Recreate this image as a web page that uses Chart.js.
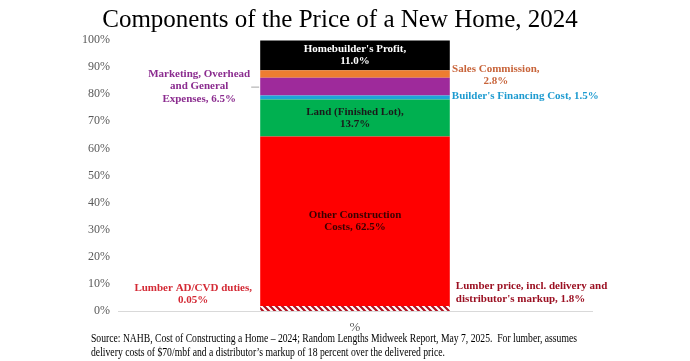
<!DOCTYPE html>
<html lang="en">
<head>
  <meta charset="UTF-8"/>
  <title>Components of the Price of a New Home, 2024</title>
  <script src="https://cdn.jsdelivr.net/npm/chart.js"></script>
  <style>
    html, body { margin: 0; padding: 0; background: #fff; }
    #wrap { width: 690px; height: 361px; }
  </style>
</head>
<body>
  <div id="wrap"><canvas id="chart"></canvas></div>

  <script>
    // data, bottom of the stack first
    const categories = ['%'];
    const segmentNames = [
      "Lumber price, incl. delivery and distributor's markup",
      'Lumber AD/CVD duties',
      'Other Construction Costs',
      'Land (Finished Lot)',
      "Builder's Financing Cost",
      'Marketing, Overhead and General Expenses',
      'Sales Commission',
      "Homebuilder's Profit"
    ];
    const segmentValues = [1.8, 0.05, 62.5, 13.7, 1.5, 6.5, 2.8, 11.0];
    const yTickLabels = ['0%','10%','20%','30%','40%','50%','60%','70%','80%','90%','100%'];
    const titleText = 'Components of the Price of a New Home, 2024';
    const sourceLines = [
      'Source: NAHB, Cost of Constructing a Home \u2013 2024; Random Lengths Midweek Report, May 7, 2025.  For lumber, assumes',
      'delivery costs of $70/mbf and a distributor\u2019s markup of 18 percent over the delivered price.'
    ];

    // hatched fill for the lumber slice
    function hatch() {
      const c = document.createElement('canvas');
      c.width = 6; c.height = 6;
      const g = c.getContext('2d');
      g.fillStyle = '#fff';
      g.fillRect(0, 0, 6, 6);
      g.strokeStyle = '#b01020';
      g.lineWidth = 2.2;
      g.beginPath();
      g.moveTo(-1, -1); g.lineTo(7, 7);
      g.moveTo(-4, 2); g.lineTo(4, 10);
      g.moveTo(2, -4); g.lineTo(10, 4);
      g.stroke();
      return g.createPattern(c, 'repeat');
    }

    const fills = [hatch(), '#ff0000', '#ff0000', '#00b050', '#1ea5d8', '#9e2a9b', '#ed7d31', '#000000'];

    // label look: where it sits relative to its slice, colour, lines
    const fmt = v => (v < 0.1 ? v.toFixed(2) : v.toFixed(1)) + '%';
    const labelStyles = [
      { side: 'right', dx: 6, dy: -16, align: 'left', color: '#9b1022',
        lines: v => ['Lumber price, incl. delivery and', "distributor's markup, " + fmt(v)] },
      { side: 'left', dx: 67, dy: -12, align: 'center', color: '#d42a35',
        lines: v => ['Lumber AD/CVD duties,', fmt(v)] },
      { side: 'in', dx: 0, dy: 0, align: 'center', color: '#3a0000',
        lines: v => ['Other Construction', 'Costs, ' + fmt(v)] },
      { side: 'in', dx: 0, dy: 0, align: 'center', color: '#1a1a1a',
        lines: v => ['Land (Finished Lot),', fmt(v)] },
      { side: 'right', dx: 2, dy: -1, align: 'left', color: '#1e9bd0',
        lines: v => ["Builder's Financing Cost, " + fmt(v)] },
      { side: 'left', dx: 61, dy: 0, align: 'center', color: '#8b2c8f', leader: true,
        lines: v => ['Marketing, Overhead', 'and General', 'Expenses, ' + fmt(v)] },
      { side: 'right', dx: 46, dy: 1, align: 'center', color: '#c8643a',
        lines: v => ['Sales Commission,', fmt(v)] },
      { side: 'in', dx: 0, dy: 0, align: 'center', color: '#ffffff',
        lines: v => ["Homebuilder's Profit,", fmt(v)] }
    ];

    const segLabels = {
      id: 'segLabels',
      afterDatasetsDraw(chart) {
        const ctx = chart.ctx;
        ctx.save();
        ctx.font = 'bold 11px "Liberation Serif", serif';
        ctx.textBaseline = 'middle';
        chart.data.datasets.forEach((ds, i) => {
          const bar = chart.getDatasetMeta(i).data[0];
          const s = labelStyles[i];
          const mid = (bar.y + bar.base) / 2;
          const left = bar.x - bar.width / 2, right = bar.x + bar.width / 2;
          let x = bar.x;
          if (s.side === 'left') x = left - s.dx;
          if (s.side === 'right') x = right + s.dx;
          const lines = s.lines(ds.data[0]);
          const lh = 12.5;
          const top = mid + s.dy - (lines.length - 1) * lh / 2;
          ctx.fillStyle = s.color;
          ctx.textAlign = s.align;
          lines.forEach((t, k) => ctx.fillText(t, x, top + k * lh));
          if (s.leader) {
            ctx.strokeStyle = '#a6a6a6';
            ctx.lineWidth = 1;
            ctx.beginPath();
            ctx.moveTo(left - 9, mid + 0.5);
            ctx.lineTo(left - 1, mid + 0.5);
            ctx.stroke();
          }
        });
        // title
        ctx.fillStyle = '#000';
        ctx.textAlign = 'center';
        ctx.textBaseline = 'alphabetic';
        ctx.font = '25px "Liberation Serif", serif';
        ctx.fillText(titleText, 340, 27);
        // source note
        ctx.textAlign = 'left';
        ctx.font = '12px "Liberation Serif", serif';
        ctx.fillText(sourceLines[0], 91, 342, 486);
        ctx.fillText(sourceLines[1], 91, 356, 354);
        ctx.restore();
      }
    };

    const ctx = document.getElementById('chart').getContext('2d');
    new Chart(ctx, {
      type: 'bar',
      data: {
        labels: categories,
        datasets: segmentNames.map((name, i) => ({
          label: name,
          data: [segmentValues[i]],
          backgroundColor: fills[i],
          borderWidth: 0,
          barPercentage: 0.4,
          categoryPercentage: 1
        }))
      },
      options: {
        responsive: true,
        maintainAspectRatio: false,
        animation: false,
        layout: { padding: { left: 0, right: 98, top: 40, bottom: 0 } },
        plugins: {
          legend: { display: false },
          tooltip: { enabled: false },
          title: { display: false }
        },
        scales: {
          x: {
            stacked: true,
            grid: { display: false, drawTicks: false },
            border: { color: '#d9d9d9' },
            ticks: { color: '#595959', font: { family: '"Liberation Serif", serif', size: 13 }, padding: 9 },
            afterFit: s => { s.height = 50; }
          },
          y: {
            stacked: true,
            min: 0,
            max: 100,
            grid: { display: false, drawTicks: false },
            border: { display: false },
            ticks: {
              stepSize: 10,
              color: '#595959',
              padding: 8,
              font: { family: '"Liberation Serif", serif', size: 12 },
              callback: (v, i) => yTickLabels[i]
            },
            afterFit: s => { s.width = 118; }
          }
        }
      },
      plugins: [segLabels]
    });
  </script>
</body>
</html>
